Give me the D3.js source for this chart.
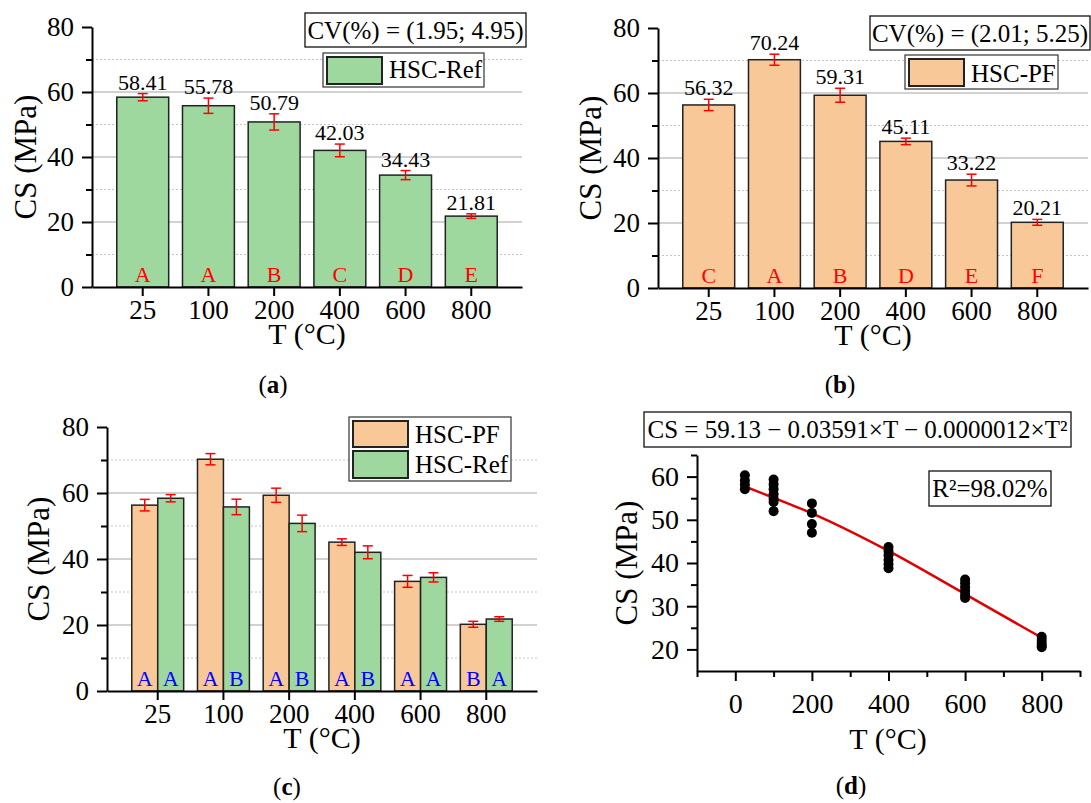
<!DOCTYPE html>
<html>
<head>
<meta charset="utf-8">
<script src="https://cdn.jsdelivr.net/npm/d3@7"></script>
<style>
  body { margin: 0; background: #fff; }
  svg text { font-family: "Liberation Serif", "Times New Roman", serif; fill: #000; }
</style>
</head>
<body>
<svg id="chart" width="1091" height="803"></svg>
<script>
// ---- data ----
const temps = ["25", "100", "200", "400", "600", "800"];

const refMean = [58.41, 55.78, 50.79, 42.03, 34.43, 21.81];
const refErr = [1.1, 2.35, 2.5, 1.95, 1.4, 0.7];
const refLetters = ["A", "A", "B", "C", "D", "E"];

const pfMean = [56.32, 70.24, 59.31, 45.11, 33.22, 20.21];
const pfErr = [1.75, 1.7, 2.15, 1.0, 1.8, 0.9];
const pfLetters = ["C", "A", "B", "D", "E", "F"];

// panel (c) pairwise letters
const pfPairLetters = ["A", "A", "A", "A", "A", "B"];
const refPairLetters = ["A", "B", "B", "B", "A", "A"];

const barTicks = [0, 20, 40, 60, 80];
const barMinor = [10, 30, 50, 70];

// panel (d) scatter + fitted curve
const scatterT = [25, 25, 25, 25,
  100, 100, 100, 100, 100, 100, 100,
  200, 200, 200, 200,
  400, 400, 400, 400, 400, 400,
  600, 600, 600, 600, 600, 600,
  800, 800, 800, 800, 800];
const scatterCS = [60.3, 59.1, 58.1, 57.1,
  59.3, 58.2, 57.1, 55.9, 54.9, 54.1, 52.0,
  53.8, 51.6, 49.0, 47.0,
  43.7, 42.8, 41.8, 40.7, 39.7, 38.8,
  36.2, 35.3, 34.4, 33.5, 32.6, 31.9,
  22.9, 22.2, 21.5, 20.9, 20.5];
const fitT = [25, 100, 200, 400, 600, 800];
const fitCS = [57.7, 55.1, 51.5, 42.8, 32.8, 22.7];
const dXTicks = [0, 200, 400, 600, 800];
const dXMinor = [-100, 100, 300, 500, 700, 900];
const dYTicks = [20, 30, 40, 50, 60];
const dYMinor = [25, 35, 45, 55, 65];

const green = "#9ed89e";
const orange = "#f9c899";

const svg = d3.select("#chart");

function styleAxis(g, size) {
  g.attr("font-family", "Liberation Serif, Times New Roman, serif")
    .attr("font-size", size);
  g.selectAll(".domain").attr("stroke", "#000").attr("stroke-width", 2);
  g.selectAll(".tick line").attr("stroke", "#000").attr("stroke-width", 2);
  g.selectAll(".tick text").attr("fill", "#000");
}

function textBox(x, y, w, h, tx, ty, label, anchor) {
  svg.append("rect").attr("x", x).attr("y", y).attr("width", w).attr("height", h)
    .attr("fill", "#fff").attr("stroke", "#111").attr("stroke-width", 1.3);
  svg.append("text").attr("x", tx).attr("y", ty)
    .attr("text-anchor", anchor || "middle").attr("font-size", 25).text(label);
}

function legendItem(x, y, w, h, fill, tx, ty, label) {
  svg.append("rect").attr("x", x).attr("y", y).attr("width", w).attr("height", h)
    .attr("fill", fill).attr("stroke", "#222").attr("stroke-width", 2);
  svg.append("text").attr("x", tx).attr("y", ty).attr("font-size", 25).text(label);
}

function titles(yx, yy, tx, ty) {
  svg.append("text")
    .attr("transform", `translate(${yx},${yy}) rotate(-90)`)
    .attr("text-anchor", "middle").attr("font-size", 31).text("CS (MPa)");
  svg.append("text").attr("x", tx).attr("y", ty)
    .attr("text-anchor", "middle").attr("font-size", 30).text("T (°C)");
}

function panelLabel(x, y, letter) {
  const t = svg.append("text").attr("x", x).attr("y", y)
    .attr("text-anchor", "middle").attr("font-size", 25);
  t.append("tspan").text("(");
  t.append("tspan").attr("font-weight", "bold").text(letter);
  t.append("tspan").text(")");
}

function gridAndYAxis(xr, y) {
  const g = svg.append("g");
  g.selectAll(".gmaj").data([20, 40, 60]).enter().append("line")
    .attr("x1", xr[0]).attr("x2", xr[1])
    .attr("y1", d => y(d)).attr("y2", d => y(d))
    .attr("stroke", "#a6a6a6").attr("stroke-width", 1.2);
  g.selectAll(".gmin").data(barMinor).enter().append("line")
    .attr("x1", xr[0]).attr("x2", xr[1])
    .attr("y1", d => y(d)).attr("y2", d => y(d))
    .attr("stroke", "#c4c4c4").attr("stroke-width", 1)
    .attr("stroke-dasharray", "2,2");
}

function drawAxes(x, y, xr) {
  const yAx = svg.append("g").attr("transform", `translate(${xr[0]},0)`)
    .call(d3.axisLeft(y).tickValues(barTicks).tickSize(10).tickPadding(8).tickSizeOuter(0));
  styleAxis(yAx, 27);
  const yMin = svg.append("g").attr("transform", `translate(${xr[0]},0)`)
    .call(d3.axisLeft(y).tickValues(barMinor).tickSize(6).tickFormat("").tickSizeOuter(0));
  styleAxis(yMin, 27);
  yMin.select(".domain").remove();
  const xAx = svg.append("g").attr("transform", `translate(0,${y(0)})`)
    .call(d3.axisBottom(x).tickSize(9).tickPadding(4).tickSizeOuter(0));
  styleAxis(xAx, 27);
}

function errorBar(cx, y, m, e) {
  const g = svg.append("g").attr("stroke", "#ff0000").attr("stroke-width", 1.5);
  g.append("line").attr("x1", cx).attr("x2", cx).attr("y1", y(m - e)).attr("y2", y(m + e));
  g.append("line").attr("x1", cx - 5).attr("x2", cx + 5).attr("y1", y(m - e)).attr("y2", y(m - e));
  g.append("line").attr("x1", cx - 5).attr("x2", cx + 5).attr("y1", y(m + e)).attr("y2", y(m + e));
}

// ---- panels (a) and (b): single series ----
function singlePanel(p) {
  const x = d3.scaleBand().domain(temps).range(p.xr).paddingInner(0.21).paddingOuter(0.377);
  const y = d3.scaleLinear().domain([0, 80]).range(p.yr);
  gridAndYAxis(p.xr, y);

  svg.append("g").selectAll("rect").data(temps).enter().append("rect")
    .attr("x", d => x(d)).attr("width", x.bandwidth())
    .attr("y", (d, i) => y(p.mean[i])).attr("height", (d, i) => y(0) - y(p.mean[i]))
    .attr("fill", p.fill).attr("stroke", "#222").attr("stroke-width", 1.5);

  temps.forEach((t, i) => {
    const cx = x(t) + x.bandwidth() / 2;
    errorBar(cx, y, p.mean[i], p.err[i]);
    svg.append("text").attr("x", cx).attr("y", y(p.mean[i] + p.err[i]) - 4)
      .attr("text-anchor", "middle").attr("font-size", 22).text(p.mean[i].toFixed(2));
    svg.append("text").attr("x", cx).attr("y", y(0) - 5)
      .attr("text-anchor", "middle").attr("font-size", 22)
      .style("fill", "#ff0000").text(p.letters[i]);
  });

  drawAxes(x, y, p.xr);
  titles(p.titleY[0], p.titleY[1], p.titleX[0], p.titleX[1]);
  textBox(p.cv[0], p.cv[1], p.cv[2], p.cv[3], p.cv[0] + p.cv[2] / 2, p.cv[4], p.cvText);
  svg.append("rect").attr("x", p.leg[0]).attr("y", p.leg[1]).attr("width", p.leg[2]).attr("height", p.leg[3])
    .attr("fill", "#fff").attr("stroke", "#333").attr("stroke-width", 1.2);
  legendItem(p.leg[0] + 4, p.leg[1] + 4, 55, 27, p.fill, p.leg[0] + 66, p.leg[4], p.legText);
  panelLabel(p.label[0], p.label[1], p.label[2]);
}

singlePanel({
  xr: [92, 522], yr: [287, 27], mean: refMean, err: refErr, letters: refLetters, fill: green,
  titleY: [36, 157], titleX: [307, 344],
  cv: [305, 13, 221, 34, 38.5], cvText: "CV(%) = (1.95; 4.95)",
  leg: [323, 53, 161, 34, 77.5], legText: "HSC-Ref",
  label: [273, 393, "a"]
});

singlePanel({
  xr: [658, 1088], yr: [288, 28], mean: pfMean, err: pfErr, letters: pfLetters, fill: orange,
  titleY: [601, 158], titleX: [873, 345],
  cv: [870, 16, 220, 34, 41.7], cvText: "CV(%) = (2.01; 5.25)",
  leg: [905, 55, 153, 34, 81.7], legText: "HSC-PF",
  label: [840, 393, "b"]
});

// ---- panel (c): grouped ----
(function () {
  const xr = [107, 537];
  const x = d3.scaleBand().domain(temps).range(xr).paddingInner(0.21).paddingOuter(0.377);
  const xs = d3.scaleBand().domain(["PF", "Ref"]).range([0, x.bandwidth()]);
  const y = d3.scaleLinear().domain([0, 80]).range([691, 427]);
  gridAndYAxis(xr, y);

  const series = [
    { key: "PF", mean: pfMean, err: pfErr, letters: pfPairLetters, fill: orange },
    { key: "Ref", mean: refMean, err: refErr, letters: refPairLetters, fill: green }
  ];
  series.forEach(s => {
    svg.append("g").selectAll("rect").data(temps).enter().append("rect")
      .attr("x", d => x(d) + xs(s.key)).attr("width", xs.bandwidth())
      .attr("y", (d, i) => y(s.mean[i])).attr("height", (d, i) => y(0) - y(s.mean[i]))
      .attr("fill", s.fill).attr("stroke", "#222").attr("stroke-width", 1.5);
    temps.forEach((t, i) => {
      const cx = x(t) + xs(s.key) + xs.bandwidth() / 2;
      errorBar(cx, y, s.mean[i], s.err[i]);
      svg.append("text").attr("x", cx).attr("y", y(0) - 5)
        .attr("text-anchor", "middle").attr("font-size", 22)
        .style("fill", "#0000ff").text(s.letters[i]);
    });
  });

  drawAxes(x, y, xr);
  titles(49, 559, 322, 748);
  svg.append("rect").attr("x", 349).attr("y", 417).attr("width", 162).attr("height", 64)
    .attr("fill", "#fff").attr("stroke", "#333").attr("stroke-width", 1.2);
  legendItem(353, 421, 55, 26, orange, 415, 443, "HSC-PF");
  legendItem(353, 451, 55, 27, green, 415, 473, "HSC-Ref");
  panelLabel(287, 795, "c");
})();

// ---- panel (d): scatter with fitted curve ----
(function () {
  const x = d3.scaleLinear().domain([-100, 900]).range([697, 1080]);
  const y = d3.scaleLinear().domain([15, 65]).range([671, 455]);

  svg.append("path")
    .datum(fitT.map((t, i) => [t, fitCS[i]]))
    .attr("d", d3.line().x(d => x(d[0])).y(d => y(d[1])).curve(d3.curveMonotoneX))
    .attr("fill", "none").attr("stroke", "#e00000").attr("stroke-width", 2.5);

  svg.append("g").selectAll("circle").data(scatterT).enter().append("circle")
    .attr("cx", d => x(d)).attr("cy", (d, i) => y(scatterCS[i]))
    .attr("r", 5).attr("fill", "#000");

  const yAx = svg.append("g").attr("transform", `translate(${x(-100)},0)`)
    .call(d3.axisLeft(y).tickValues(dYTicks).tickSize(10).tickPadding(8).tickSizeOuter(0));
  styleAxis(yAx, 28);
  const yMin = svg.append("g").attr("transform", `translate(${x(-100)},0)`)
    .call(d3.axisLeft(y).tickValues(dYMinor).tickSize(6).tickFormat("").tickSizeOuter(0));
  styleAxis(yMin, 28);
  yMin.select(".domain").remove();

  const xAx = svg.append("g").attr("transform", `translate(0,${y(15)})`)
    .call(d3.axisBottom(x).tickValues(dXTicks).tickSize(10).tickPadding(12).tickSizeOuter(0));
  styleAxis(xAx, 28);
  const xMin = svg.append("g").attr("transform", `translate(0,${y(15)})`)
    .call(d3.axisBottom(x).tickValues(dXMinor).tickSize(6).tickFormat("").tickSizeOuter(0));
  styleAxis(xMin, 28);
  xMin.select(".domain").remove();

  titles(637, 563, 888, 749);
  textBox(644, 412, 427, 35, 857.5, 438, "CS = 59.13 − 0.03591×T − 0.0000012×T²");
  textBox(929, 471, 122, 35, 990, 497, "R²=98.02%");
  panelLabel(851, 794, "d");
})();
</script>
</body>
</html>
